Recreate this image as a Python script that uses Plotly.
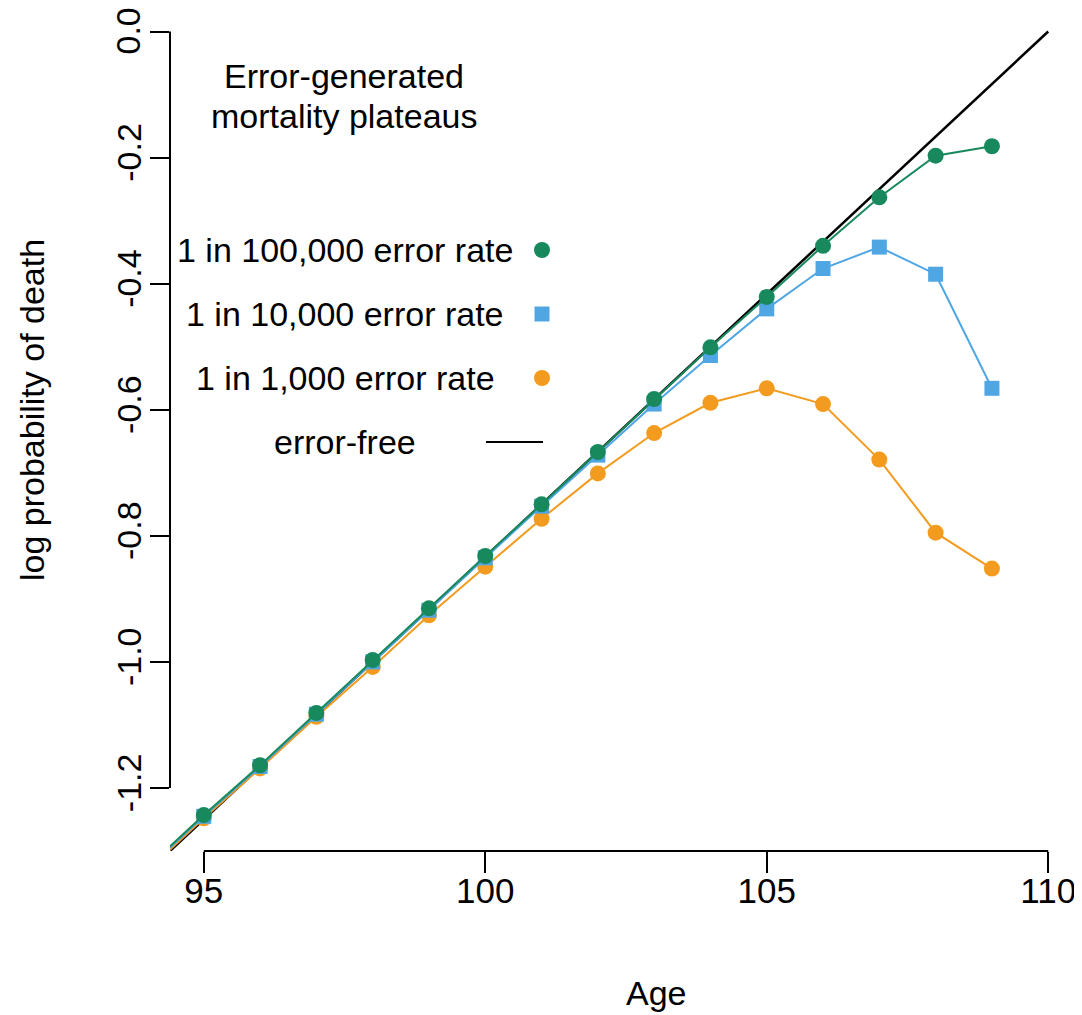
import plotly.graph_objects as go

ages = [94, 95, 96, 97, 98, 99, 100, 101, 102, 103, 104, 105, 106, 107, 108, 109]
err_1e5 = [-1.326, -1.243, -1.164, -1.081, -0.997, -0.915, -0.832, -0.750, -0.667, -0.583,
           -0.501, -0.421, -0.340, -0.263, -0.197, -0.182]
err_1e4 = [-1.328, -1.245, -1.166, -1.083, -1.000, -0.918, -0.835, -0.753, -0.672, -0.591,
           -0.514, -0.440, -0.376, -0.342, -0.385, -0.566]
err_1e3 = [-1.331, -1.248, -1.169, -1.087, -1.008, -0.926, -0.849, -0.773, -0.701, -0.637,
           -0.589, -0.566, -0.591, -0.679, -0.795, -0.852]
free_ages = [94, 110]
free_vals = [-1.3333, 0.0]

x_ticks = [95, 100, 105, 110]
y_ticks = [-1.2, -1.0, -0.8, -0.6, -0.4, -0.2, 0.0]
y_tick_labels = ["-1.2", "-1.0", "-0.8", "-0.6", "-0.4", "-0.2", "0.0"]

legend_labels = ["1 in 100,000 error rate", "1 in 10,000 error rate", "1 in 1,000 error rate", "error-free"]
title_lines = ["Error-generated", "mortality plateaus"]

GREEN = "#17895c"
BLUE = "#4fa6e3"
ORANGE = "#f39b1f"
FONT = "Liberation Sans, Arial, sans-serif"
FS = 34

# page body has an 8px margin
PAGE_OFF = 8
W, H = 1074, 1007
L, B = 162, 164

plot_left_page = L + PAGE_OFF
plot_right_page = W + PAGE_OFF
plot_top_page = PAGE_OFF
plot_bottom_page = H - B + PAGE_OFF


def px(xp):
    return (xp - plot_left_page) / (plot_right_page - plot_left_page)


def py(yp):
    return (plot_bottom_page - yp) / (plot_bottom_page - plot_top_page)


fig = go.Figure()
fig.add_trace(go.Scatter(x=free_ages, y=free_vals, mode="lines",
                         line=dict(color="black", width=2.5), showlegend=False))
fig.add_trace(go.Scatter(x=ages, y=err_1e3, mode="lines+markers",
                         line=dict(color=ORANGE, width=2),
                         marker=dict(symbol="circle", size=16, color=ORANGE), showlegend=False))
fig.add_trace(go.Scatter(x=ages, y=err_1e4, mode="lines+markers",
                         line=dict(color=BLUE, width=2),
                         marker=dict(symbol="square", size=15, color=BLUE), showlegend=False))
fig.add_trace(go.Scatter(x=ages, y=err_1e5, mode="lines+markers",
                         line=dict(color=GREEN, width=2),
                         marker=dict(symbol="circle", size=16, color=GREEN), showlegend=False))

# overlay pixel-coordinate axes (page pixels) for the legend block
leg_x = [542, 542, 542]
leg_y = [250, 314, 378]
leg_symbols = ["circle", "square", "circle"]
leg_colors = [GREEN, BLUE, ORANGE]
leg_sizes = [16, 15, 16]
for xx, yy, s, c, sz in zip(leg_x, leg_y, leg_symbols, leg_colors, leg_sizes):
    fig.add_trace(go.Scatter(x=[xx], y=[yy], xaxis="x2", yaxis="y2", mode="markers",
                             marker=dict(symbol=s, size=sz, color=c), showlegend=False))
fig.add_trace(go.Scatter(x=[486, 543], y=[442, 442], xaxis="x2", yaxis="y2", mode="lines",
                         line=dict(color="black", width=2), showlegend=False))

row_y = [250, 314, 378, 442]
for lab, yy in zip(legend_labels, row_y):
    fig.add_annotation(x=px(345), y=py(yy), xref="paper", yref="paper", text=lab, showarrow=False,
                       xanchor="center", yanchor="middle", font=dict(family=FONT, size=FS, color="black"))
for lab, yy in zip(title_lines, [76, 116]):
    fig.add_annotation(x=px(344), y=py(yy), xref="paper", yref="paper", text=lab, showarrow=False,
                       xanchor="center", yanchor="middle", font=dict(family=FONT, size=FS, color="black"))

# axis titles
fig.add_annotation(x=px(656), y=py(993), xref="paper", yref="paper", text="Age", showarrow=False,
                   xanchor="center", yanchor="middle", font=dict(family=FONT, size=FS, color="black"))
fig.add_annotation(x=px(32), y=py(410), xref="paper", yref="paper", text="log probability of death",
                   showarrow=False, textangle=-90, xanchor="center", yanchor="middle",
                   font=dict(family=FONT, size=FS, color="black"))

# top y tick label sits at the very edge of the figure, so it is drawn as an annotation
fig.add_annotation(x=px(128), y=y_ticks[-1], xref="paper", yref="y", text=y_tick_labels[-1],
                   showarrow=False, textangle=-90, xanchor="center", yanchor="middle",
                   font=dict(family=FONT, size=34, color="black"))
axis_y_text = y_tick_labels[:-1] + [""]

# R-style axis lines spanning only the tick range
fig.add_shape(type="line", xref="x", yref="paper", x0=x_ticks[0], x1=x_ticks[-1], y0=0, y1=0,
              line=dict(color="black", width=2))
fig.add_shape(type="line", xref="paper", yref="y", x0=0, x1=0, y0=y_ticks[0], y1=y_ticks[-1],
              line=dict(color="black", width=2))

fig.update_layout(
    width=W, height=H,
    margin=dict(l=L, r=0, t=0, b=B),
    plot_bgcolor="white", paper_bgcolor="white",
    xaxis=dict(range=[94.4, 110.6], tickvals=x_ticks, ticktext=[str(v) for v in x_ticks],
               ticks="outside", ticklen=21, tickwidth=2, tickcolor="black",
               showgrid=False, zeroline=False, showline=False, ticklabeloverflow="allow",
               tickfont=dict(family=FONT, size=35, color="black"), ticklabelstandoff=-12),
    yaxis=dict(range=[-1.3, 0.0373], tickvals=y_ticks, ticktext=axis_y_text,
               ticks="outside", ticklen=19, tickwidth=2, tickcolor="black",
               showgrid=False, zeroline=False, showline=False, tickangle=-90,
               tickfont=dict(family=FONT, size=34, color="black"), ticklabelstandoff=-5),
    xaxis2=dict(range=[plot_left_page, plot_right_page], overlaying="x", visible=False, anchor="y2"),
    yaxis2=dict(range=[plot_bottom_page, plot_top_page], overlaying="y", visible=False, anchor="x2"),
    font=dict(family=FONT, size=FS, color="black"),
)
fig.write_html("out.html")
